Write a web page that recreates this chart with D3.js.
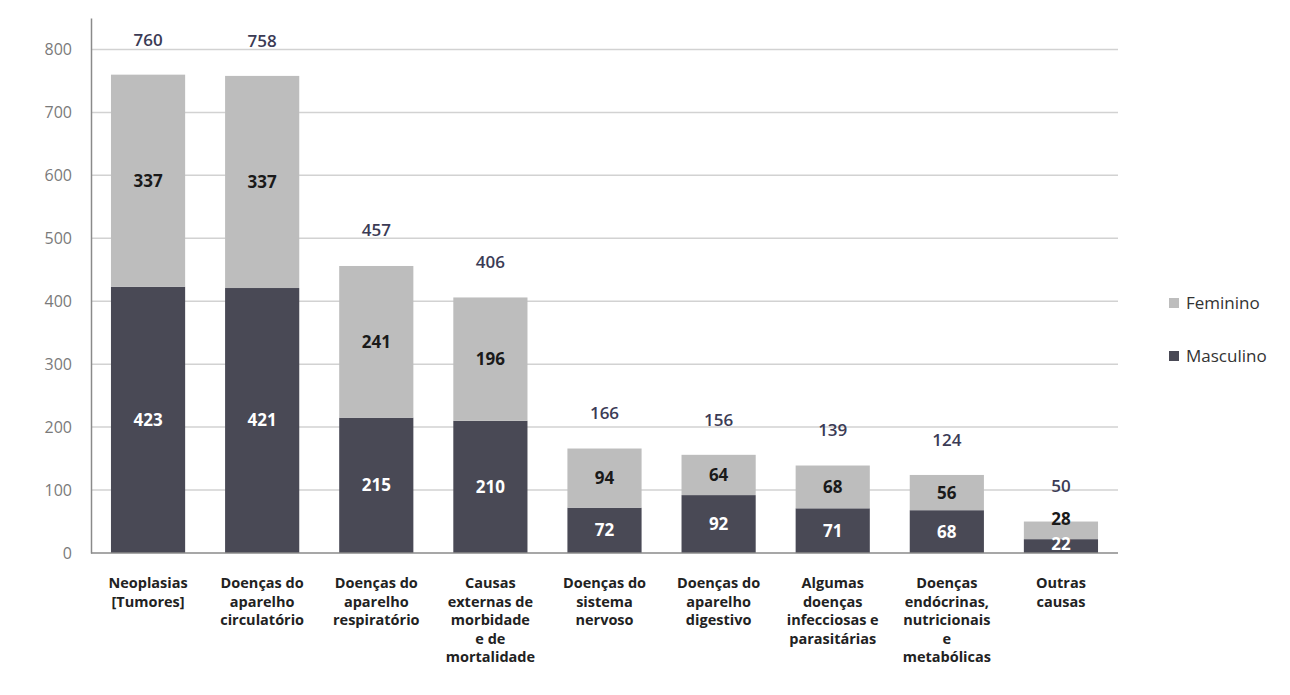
<!DOCTYPE html>
<html><head><meta charset="utf-8">
<script src="https://cdn.jsdelivr.net/npm/d3@7"></script>
<style>body{margin:0;background:#fff;}svg{display:block;font-family:"Open Sans",Lato,sans-serif;}</style>
</head><body><svg id="c" width="1290" height="695"></svg>
<script>
const categories = [
  ["Neoplasias","[Tumores]"],
  ["Doenças do","aparelho","circulatório"],
  ["Doenças do","aparelho","respiratório"],
  ["Causas","externas de","morbidade","e de","mortalidade"],
  ["Doenças do","sistema","nervoso"],
  ["Doenças do","aparelho","digestivo"],
  ["Algumas","doenças","infecciosas e","parasitárias"],
  ["Doenças","endócrinas,","nutricionais","e","metabólicas"],
  ["Outras","causas"]
];
const masculino = [423,421,215,210,72,92,71,68,22];
const feminino  = [337,337,241,196,94,64,68,56,28];
const totais    = [760,758,457,406,166,156,139,124,50];
const yTicks    = [0,100,200,300,400,500,600,700,800];
const seriesNames = ["Feminino","Masculino"];

const svg = d3.select("#c");
const m = {left:91, right:1118, top:18, bottom:553};
const keys = categories.map((c,i)=>i);
const x = d3.scaleBand().domain(keys).range([m.left, m.right]).paddingInner(0.35).paddingOuter(0.175);
const y = d3.scaleLinear().domain([0,850]).range([m.bottom, m.top]);

// gridlines
svg.append("g").selectAll("line").data(yTicks.filter(d=>d>0)).join("line")
  .attr("x1",m.left).attr("x2",m.right).attr("y1",d=>y(d)).attr("y2",d=>y(d))
  .attr("stroke","#d2d2d2").attr("stroke-width",1.5);

// y axis
const yAxis = d3.axisLeft(y).tickValues(yTicks).tickSize(0).tickPadding(19);
const gy = svg.append("g").attr("transform",`translate(${m.left},0)`).call(yAxis);
gy.select(".domain").attr("stroke","#8a8a8a").attr("stroke-width",1.5);
gy.selectAll("text").attr("fill","#7a7a7a").style("font-size","16px").style("font-family","'Open Sans', sans-serif");

// bars
const colF = "#bdbdbd", colM = "#494955";
const g = svg.append("g");
g.selectAll("rect.m").data(keys).join("rect").attr("class","m")
  .attr("x",i=>x(i)).attr("width",x.bandwidth())
  .attr("y",i=>y(masculino[i])).attr("height",i=>y(0)-y(masculino[i])).attr("fill",colM);
g.selectAll("rect.f").data(keys).join("rect").attr("class","f")
  .attr("x",i=>x(i)).attr("width",x.bandwidth())
  .attr("y",i=>y(masculino[i]+feminino[i])).attr("height",i=>y(masculino[i])-y(masculino[i]+feminino[i])).attr("fill",colF);

// x axis baseline
svg.append("line").attr("x1",m.left).attr("x2",m.right).attr("y1",y(0)).attr("y2",y(0))
  .attr("stroke","#8a8a8a").attr("stroke-width",1.5);

// segment labels
g.selectAll("text.ml").data(keys).join("text").attr("class","ml")
  .attr("x",i=>x(i)+x.bandwidth()/2)
  .attr("y",i=> i===8 ? y(0)-9 : y(masculino[i]/2))
  .attr("dy","0.35em")
  .attr("text-anchor","middle").attr("fill","#ffffff")
  .style("font-size","17px").style("font-weight","bold").text(i=>masculino[i]);
g.selectAll("text.fl").data(keys).join("text").attr("class","fl")
  .attr("x",i=>x(i)+x.bandwidth()/2)
  .attr("y",i=> i===8 ? y(masculino[i]+feminino[i])-2 : y(masculino[i]+feminino[i]/2))
  .attr("dy","0.35em")
  .attr("text-anchor","middle").attr("fill","#1a1a1a")
  .style("font-size","17px").style("font-weight","bold").text(i=>feminino[i]);
// totals
g.selectAll("text.tl").data(keys).join("text").attr("class","tl")
  .attr("x",i=>x(i)+x.bandwidth()/2)
  .attr("y",i=>y(totais[i])-35)
  .attr("dy","0.35em")
  .attr("text-anchor","middle").attr("fill","#3b3b55")
  .style("font-size","17px").style("font-weight","600").text(i=>totais[i]);

// category labels
const cl = svg.append("g").selectAll("text").data(keys).join("text")
  .attr("x",i=>x(i)+x.bandwidth()/2).attr("y",583)
  .attr("text-anchor","middle").attr("fill","#222")
  .style("font-size","14.5px").style("font-weight","bold");
cl.selectAll("tspan").data(i=>categories[i].map(t=>({t, x:x(i)+x.bandwidth()/2}))).join("tspan")
  .attr("x",d=>d.x).attr("dy",(d,j)=>j===0?"0.35em":18.5).text(d=>d.t);

// legend
const lg = svg.append("g");
const legendColors = [colF, colM];
seriesNames.forEach((n,j)=>{
  const yy = 303 + j*53;
  lg.append("rect").attr("x",1169).attr("y",yy-5).attr("width",10).attr("height",10).attr("fill",legendColors[j]);
  lg.append("text").attr("x",1186).attr("y",yy).attr("dy","0.35em").attr("fill","#333")
    .style("font-size","17px").text(n);
});
</script></body></html>
